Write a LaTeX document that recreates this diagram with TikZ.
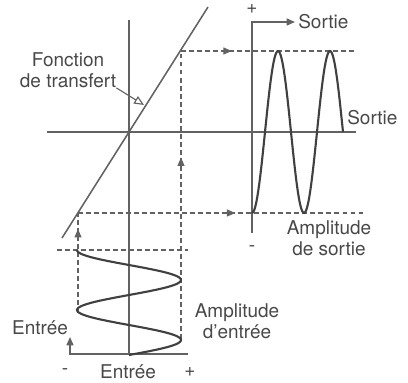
\documentclass[tikz,border=0pt]{standalone}
\usepackage{fontspec}
\setmainfont{TeX Gyre Heros}
\usetikzlibrary{arrows.meta, positioning, decorations.markings}
\definecolor{mLine}{HTML}{626262}
\definecolor{mCurve}{HTML}{404040}
\definecolor{mText}{HTML}{484848}
\tikzset{
  axisline/.style={mLine, line width=1.1pt},
  curveline/.style={mCurve, line width=1.5pt},
  projline/.style={mLine, line width=0.75pt, dash pattern=on 3.5pt off 2.2pt},
  midarrow/.style={postaction=decorate, decoration={markings,
      mark=at position #1 with {\arrow{Triangle[length=6pt, width=5pt]}}}},
  lbl/.style={mText, font=\fontsize{13.5}{15}\selectfont, inner sep=0pt},
}

\begin{document}
\begin{tikzpicture}[x=0.025cm, y=-0.025cm]
    \useasboundingbox (0,0) rectangle (408,382);
    % main axes and transfer line
    \coordinate (vtop) at (129,20);
    \coordinate (vbot) at (129,354);
    \coordinate (hleft) at (47,132);
    \coordinate (hright) at (356,132);
    \coordinate (tlow) at (62,238);
    \coordinate (thigh) at (208,7);
    \draw[axisline] (vtop) -- (vbot);
    \draw[axisline] (hleft) -- (hright);
    \draw[axisline] (tlow) -- (thigh);
    % output axis
    \coordinate (sbot) at (252,233);
    \coordinate (stop) at (252,22);
    \coordinate (sarr) at (295,22);
    \draw[axisline, -{Triangle[length=6pt, width=5pt]}] (sbot) -- (stop) -- (sarr);
    % input axis
    \coordinate (ebotR) at (188,354);
    \coordinate (ebotL) at (70,354);
    \coordinate (earr) at (70,337);
    \draw[axisline, -{Triangle[length=6pt, width=5pt]}] (ebotR) -- (ebotL) -- (earr);
    % projection lines
    \coordinate (pHi) at (181,51);
    \coordinate (pLo) at (78,213);
    \coordinate (oHiEnd) at (356,51);
    \coordinate (oLoEnd) at (364,213);
    \coordinate (iHiEnd) at (181,339);
    \coordinate (iLoEnd) at (78,313);
    \coordinate (iStartL) at (57,250);
    \coordinate (iStartR) at (188,250);
    \draw[projline, midarrow=0.29] (pHi) -- (oHiEnd);
    \draw[projline, midarrow=0.55] (pLo) -- (oLoEnd);
    \draw[projline, midarrow=0.63] (iHiEnd) -- (pHi);
    \draw[projline, midarrow=0.84] (iLoEnd) -- (pLo);
    \draw[projline] (iStartL) -- (iStartR);
    % signals
    \draw[curveline, domain=252:343, samples=90, variable=\t]
      plot (\t, {132+81*cos(180*(\t-252)/26)});
    \draw[curveline, domain=250:355, samples=90, variable=\t]
      plot ({129-52*cos(6*(\t-250))}, \t);
    % labels
    \node[lbl, align=center] (ftlbl) at (68,70) {Fonction\\de transfert};
    \coordinate (ftip) at (144,105);
    \draw[mLine, line width=0.8pt, -{Triangle[open, length=7pt, width=6pt]}]
      (ftlbl.south east) -- (ftip);
    \node[lbl, anchor=west] (sortieTop) at (298,22) {Sortie};
    \node[lbl] (plusOut) at (252,9) {+};
    \node[lbl] (minusOut) at (252,249) {-};
    \node[lbl, anchor=west] (sortieRight) at (347,118) {Sortie};
    \node[lbl, align=center] (ampOut) at (329,238) {Amplitude\\de sortie};
    \node[lbl, align=center] (ampIn) at (237,321) {Amplitude\\d'entrée};
    \node[lbl] (entreeLeft) at (40,328) {Entrée};
    \node[lbl] (minusIn) at (65,372) {-};
    \node[lbl] (entreeBot) at (128,372) {Entrée};
    \node[lbl] (plusIn) at (190,372) {+};
  \end{tikzpicture}
\end{document}
